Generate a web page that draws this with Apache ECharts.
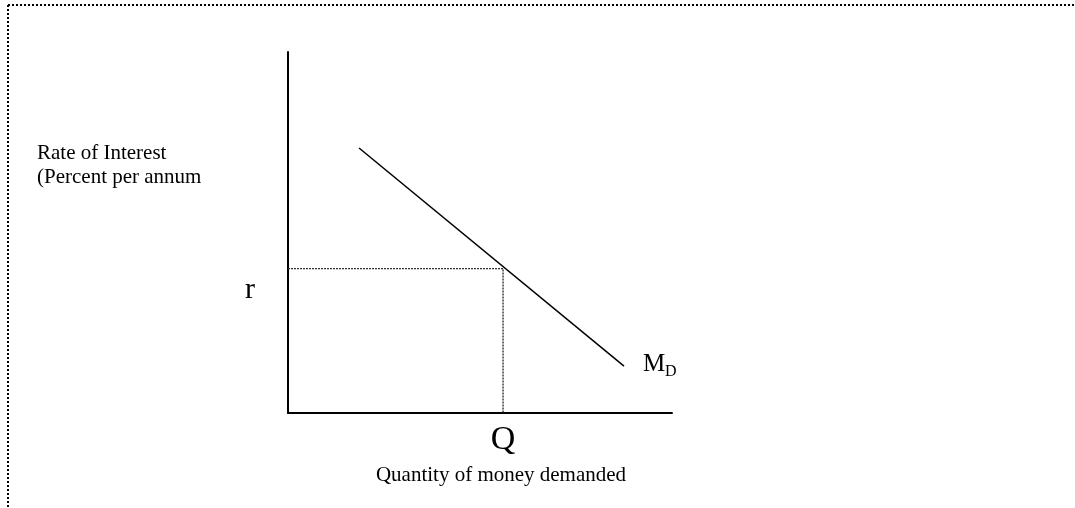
<!DOCTYPE html>
<html style="height: 100%">

<head>
    <meta charset="UTF-8" />
    <script type="text/javascript" src="https://cdn.jsdelivr.net/npm/echarts@6.0.0/dist/echarts.min.js"></script>
</head>

<body style="height: 100%; margin: 0; background: #fff">
    <div id="container" style="width: 1075px; height: 508px"></div>
    <script>
        // money demand curve (two end points), in axis units 0..100
        var demandX = [18.5, 87.5];
        var demandY = [73.4, 13.0];
        // equilibrium point
        var qEq = 56;
        var rEq = 40;

        var serif = '"Liberation Serif", "Times New Roman", serif';
        var dom = document.getElementById("container");
        var chart = echarts.init(dom);

        function txt(text, x, y, size, align) {
            return {
                type: 'text', x: x, y: y, silent: true,
                style: { text: text, font: size + 'px ' + serif, fill: '#000', align: align || 'left', verticalAlign: 'middle' }
            };
        }

        var plainAxis = {
            type: 'value', min: 0, max: 100,
            axisLine: { show: true, lineStyle: { color: '#000', width: 2 } },
            axisTick: { show: false }, axisLabel: { show: false }, splitLine: { show: false }
        };

        chart.setOption({
            animation: false,
            grid: { left: 288, right: 403, top: 52, bottom: 95 },
            xAxis: plainAxis,
            yAxis: plainAxis,
            series: [
                {
                    type: 'line', symbol: 'none',
                    data: demandX.map(function (x, i) { return [x, demandY[i]]; }),
                    lineStyle: { color: '#000', width: 1.5 }
                },
                {
                    type: 'line', symbol: 'none',
                    data: [[0, rEq], [qEq, rEq], [qEq, 0]],
                    lineStyle: { color: '#333', width: 1.4, type: [2, 1] }
                }
            ],
            graphic: [
                { type: 'line', silent: true, shape: { x1: 8, y1: 5, x2: 1075, y2: 5 }, style: { stroke: '#000', lineWidth: 2, lineDash: [2, 2] } },
                { type: 'line', silent: true, shape: { x1: 8, y1: 5, x2: 8, y2: 508 }, style: { stroke: '#000', lineWidth: 2, lineDash: [2, 2] } },
                txt('Rate of Interest', 37, 153, 21),
                txt('(Percent per annum', 37, 177, 21),
                txt('r', 250, 290, 30, 'center'),
                txt('Q', 503, 440, 34, 'center'),
                txt('Quantity of money demanded', 501, 475, 21, 'center'),
                txt('M', 643, 364.5, 25),
                txt('D', 665, 371.5, 16)
            ]
        });
    </script>
</body>

</html>
